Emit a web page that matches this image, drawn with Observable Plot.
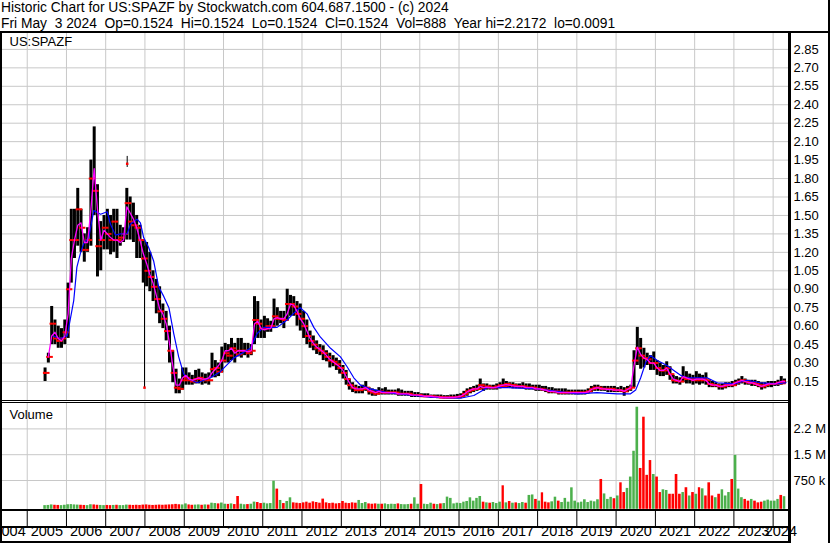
<!DOCTYPE html>
<html><head><meta charset="utf-8">
<script src="https://cdn.jsdelivr.net/npm/d3@7"></script>
<script src="https://cdn.jsdelivr.net/npm/@observablehq/plot@0.6"></script>
<style>
html,body{margin:0;padding:0;background:#fff;}
#chart{position:relative;width:830px;height:543px;overflow:hidden;background:#fff;font-family:Arial,"Liberation Sans",sans-serif;color:#000;}
.hdr{position:absolute;left:1px;top:0px;font-size:13.8px;line-height:16px;white-space:pre;}
.ln{position:absolute;background:#000;}
.panel{position:absolute;left:0;}
.panel svg{display:block;overflow:visible;}
</style></head><body>
<div id="chart">
  <div class="hdr" id="hdr"></div>
  <div class="panel" id="pricePanel" style="top:32px"></div>
  <div class="panel" id="volPanel" style="top:403px"></div>
  <div class="panel" id="axisPanel" style="top:511px"></div>
  <div class="ln" style="left:0;top:31px;width:830px;height:2px"></div>
  <div class="ln" style="left:0;top:31px;width:2px;height:512px"></div>
  <div class="ln" style="left:828px;top:0;width:2px;height:543px"></div>
  <div class="ln" style="left:788px;top:31px;width:3px;height:512px"></div>
  <div class="ln" style="left:0;top:400px;width:790px;height:1px"></div>
  <div class="ln" style="left:0;top:402px;width:790px;height:1px"></div>
  <div class="ln" style="left:0;top:509px;width:790px;height:2px"></div>
  <div class="ln" style="left:0;top:526px;width:790px;height:2px"></div>
  <div class="ln" style="left:0;top:541px;width:791px;height:2px"></div>
</div>
<script>
// ---------- header text ----------
const headerLines = [
  "Historic Chart for US:SPAZF by Stockwatch.com 604.687.1500 - (c) 2024",
  "Fri May  3 2024  Op=0.1524  Hi=0.1524  Lo=0.1524  Cl=0.1524  Vol=888  Year hi=2.2172  lo=0.0091"
];
const symbolLabel = "US:SPAZF";
const volumeLabel = "Volume";

// ---------- monthly data, Jun 2005 .. Apr 2024 ----------
const firstMonth = "2005-06";
const lastMonth = "2024-04";

const high = [
  0.26,0.38,0.76,0.65,0.60,0.58,0.65,
  0.95,1.55,1.55,1.72,1.55,1.35,1.40,1.95,2.22,1.75,1.45,1.50,
  1.55,1.50,1.55,1.55,1.42,1.40,1.72,1.65,1.60,1.50,1.42,1.30,
  1.28,1.20,1.05,0.98,0.92,0.78,0.72,0.60,0.40,0.25,0.17,0.26,
  0.26,0.22,0.20,0.24,0.25,0.22,0.21,0.22,0.38,0.32,0.30,0.43,
  0.46,0.45,0.50,0.46,0.50,0.50,0.46,0.46,0.45,0.84,0.80,0.65,
  0.68,0.66,0.64,0.82,0.75,0.72,0.72,0.90,0.85,0.84,0.80,0.78,
  0.72,0.65,0.56,0.52,0.48,0.45,0.44,0.40,0.38,0.36,0.34,0.32,
  0.28,0.24,0.17,0.14,0.12,0.11,0.12,0.15,0.10,0.09,0.08,0.10,
  0.09,0.10,0.08,0.08,0.08,0.09,0.08,0.07,0.07,0.07,0.06,0.06,
  0.05,0.05,0.05,0.04,0.04,0.04,0.04,0.035,0.035,0.04,0.04,0.045,
  0.05,0.07,0.09,0.10,0.11,0.12,0.17,0.13,0.13,0.12,0.12,0.13,
  0.14,0.17,0.15,0.14,0.14,0.13,0.13,0.14,0.13,0.13,0.12,0.12,
  0.12,0.11,0.11,0.10,0.10,0.09,0.09,0.09,0.09,0.08,0.08,0.08,
  0.08,0.08,0.08,0.09,0.11,0.12,0.12,0.11,0.11,0.11,0.11,0.11,
  0.10,0.11,0.10,0.11,0.12,0.40,0.59,0.50,0.42,0.38,0.36,0.39,
  0.32,0.30,0.28,0.31,0.27,0.20,0.19,0.18,0.27,0.23,0.21,0.20,
  0.23,0.21,0.20,0.22,0.16,0.15,0.14,0.13,0.13,0.14,0.14,0.15,
  0.16,0.17,0.19,0.17,0.16,0.16,0.16,0.15,0.14,0.14,0.15,0.15,
  0.15,0.16,0.19,0.17
];
const low = [
  0.15,0.30,0.45,0.45,0.42,0.42,0.45,
  0.50,0.95,1.15,1.25,1.20,1.12,1.20,1.25,1.50,1.00,1.05,1.22,
  1.22,1.18,1.20,1.15,1.25,1.28,1.30,1.30,1.28,1.15,1.15,0.95,
  0.92,0.88,0.80,0.70,0.62,0.58,0.48,0.30,0.14,0.05,0.05,0.08,
  0.12,0.12,0.12,0.13,0.13,0.12,0.13,0.12,0.18,0.18,0.19,0.22,
  0.30,0.30,0.32,0.30,0.35,0.34,0.36,0.34,0.36,0.45,0.50,0.50,
  0.50,0.55,0.55,0.58,0.60,0.62,0.58,0.64,0.68,0.68,0.60,0.56,
  0.50,0.45,0.42,0.40,0.37,0.36,0.32,0.31,0.26,0.27,0.24,0.21,
  0.17,0.12,0.08,0.06,0.05,0.05,0.05,0.07,0.04,0.03,0.03,0.04,
  0.04,0.04,0.04,0.04,0.04,0.03,0.03,0.03,0.03,0.02,0.02,0.02,
  0.02,0.02,0.02,0.015,0.015,0.01,0.01,0.01,0.01,0.01,0.01,0.01,
  0.01,0.02,0.03,0.05,0.06,0.07,0.08,0.07,0.08,0.08,0.08,0.08,
  0.09,0.10,0.10,0.10,0.09,0.09,0.09,0.09,0.08,0.08,0.08,0.07,
  0.07,0.07,0.06,0.05,0.05,0.05,0.04,0.04,0.04,0.04,0.04,0.04,
  0.04,0.04,0.04,0.05,0.06,0.07,0.07,0.07,0.07,0.06,0.06,0.06,
  0.06,0.06,0.03,0.06,0.07,0.10,0.28,0.25,0.26,0.28,0.24,0.24,
  0.20,0.19,0.19,0.20,0.16,0.13,0.13,0.12,0.14,0.13,0.13,0.12,
  0.13,0.12,0.13,0.12,0.10,0.10,0.10,0.08,0.08,0.09,0.10,0.10,
  0.11,0.12,0.13,0.12,0.12,0.11,0.11,0.10,0.08,0.09,0.10,0.10,
  0.11,0.11,0.12,0.13
];
const close = [
  0.22,0.35,0.62,0.50,0.48,0.50,0.55,
  0.90,1.30,1.30,1.55,1.40,1.22,1.30,1.80,1.70,1.25,1.30,1.40,
  1.35,1.30,1.45,1.30,1.32,1.35,1.60,1.45,1.42,1.40,1.30,1.15,
  1.05,1.00,0.92,0.82,0.72,0.66,0.56,0.40,0.22,0.10,0.09,0.16,
  0.18,0.16,0.15,0.17,0.18,0.16,0.17,0.16,0.25,0.26,0.23,0.32,
  0.38,0.36,0.42,0.40,0.37,0.40,0.40,0.38,0.40,0.65,0.62,0.58,
  0.58,0.60,0.60,0.68,0.66,0.66,0.65,0.78,0.78,0.76,0.70,0.66,
  0.60,0.52,0.48,0.45,0.42,0.40,0.38,0.35,0.32,0.31,0.29,0.26,
  0.22,0.17,0.12,0.10,0.08,0.08,0.09,0.10,0.07,0.06,0.05,0.07,
  0.06,0.06,0.06,0.06,0.06,0.05,0.05,0.05,0.05,0.04,0.04,0.04,
  0.03,0.03,0.03,0.03,0.025,0.025,0.02,0.02,0.02,0.02,0.02,0.025,
  0.03,0.05,0.07,0.08,0.09,0.09,0.12,0.10,0.11,0.10,0.10,0.11,
  0.12,0.11,0.13,0.12,0.12,0.11,0.11,0.11,0.10,0.10,0.10,0.09,
  0.09,0.085,0.08,0.07,0.07,0.07,0.06,0.06,0.06,0.06,0.06,0.06,
  0.06,0.06,0.06,0.07,0.09,0.10,0.10,0.09,0.09,0.09,0.09,0.08,
  0.08,0.075,0.07,0.09,0.10,0.32,0.42,0.36,0.34,0.33,0.30,0.30,
  0.26,0.24,0.24,0.26,0.21,0.16,0.155,0.15,0.18,0.17,0.17,0.16,
  0.17,0.16,0.17,0.16,0.13,0.12,0.12,0.11,0.11,0.12,0.125,0.12,
  0.14,0.15,0.16,0.15,0.14,0.14,0.13,0.12,0.11,0.12,0.13,0.13,
  0.13,0.14,0.135,0.1524
];
// short moving average (magenta)
const maShort = [
  null,0.35,0.52,0.55,0.50,0.48,0.52,
  0.70,1.15,1.30,1.42,1.44,1.28,1.28,1.55,1.88,1.55,1.30,1.38,
  1.35,1.32,1.30,1.30,1.28,1.30,1.57,1.52,1.47,1.40,1.30,1.19,
  1.11,1.02,0.95,0.85,0.74,0.70,0.62,0.46,0.28,0.12,0.12,0.18,
  0.20,0.17,0.16,0.17,0.18,0.17,0.17,0.18,0.22,0.25,0.28,0.32,
  0.40,0.40,0.42,0.38,0.40,0.40,0.40,0.39,0.40,0.62,0.64,0.58,
  0.57,0.58,0.58,0.66,0.67,0.66,0.66,0.70,0.78,0.77,0.72,0.66,
  0.62,0.56,0.50,0.46,0.43,0.41,0.39,0.36,0.33,0.31,0.29,0.27,
  0.24,0.19,0.14,0.10,0.09,0.09,0.09,0.10,0.08,0.07,0.06,0.07,
  0.06,0.06,0.06,0.06,0.06,0.05,0.05,0.05,0.05,0.04,0.04,0.04,
  0.035,0.03,0.03,0.03,0.025,0.025,0.02,0.02,0.02,0.02,0.02,0.025,
  0.03,0.045,0.065,0.08,0.09,0.09,0.11,0.10,0.105,0.10,0.10,0.105,
  0.115,0.12,0.125,0.12,0.115,0.11,0.11,0.11,0.10,0.10,0.10,0.09,
  0.09,0.085,0.08,0.07,0.07,0.065,0.06,0.06,0.06,0.06,0.06,0.06,
  0.06,0.06,0.06,0.065,0.085,0.095,0.10,0.09,0.09,0.085,0.085,0.08,
  0.08,0.08,0.07,0.085,0.10,0.28,0.43,0.37,0.34,0.33,0.30,0.30,
  0.26,0.24,0.24,0.26,0.21,0.17,0.16,0.15,0.19,0.18,0.17,0.16,
  0.17,0.17,0.17,0.16,0.13,0.12,0.12,0.11,0.11,0.12,0.12,0.125,
  0.14,0.15,0.16,0.15,0.14,0.14,0.13,0.12,0.11,0.12,0.13,0.13,
  0.13,0.14,0.15,0.15
];
// monthly volume, thousands of shares
const volumeK = [
  20,25,40,30,25,20,30,
  45,50,40,35,30,25,20,45,40,30,25,20,
  25,20,25,30,20,20,35,30,25,30,25,35,
  40,30,25,30,35,30,35,40,45,55,45,40,
  70,40,30,35,40,30,40,35,90,80,70,95,
  60,55,70,50,285,60,45,50,60,122,110,80,
  90,70,80,730,500,170,80,140,247,100,90,80,
  100,120,90,130,110,90,209,100,80,90,70,80,
  140,90,80,100,90,170,80,110,70,60,70,60,
  60,70,50,60,55,70,50,45,50,60,247,60,
  634,60,50,90,60,50,70,80,267,230,70,90,
  80,120,140,247,150,230,285,120,100,90,110,80,
  120,596,100,140,90,100,80,110,90,316,330,200,
  150,392,120,100,130,265,150,110,230,120,537,150,
  100,120,190,110,150,130,190,780,360,200,260,220,
  300,683,400,520,850,1600,2880,1100,2590,900,1330,924,
  850,400,480,460,350,350,924,350,400,540,300,400,
  350,540,508,300,683,300,250,350,480,300,400,780,
  1480,500,250,200,150,200,150,100,120,150,180,150,
  150,200,316,280
];
// long moving average (blue), read at turning points
const maLongDates = ["2005-09-01","2005-11-01","2006-01-08","2006-03-10","2006-04-08","2006-05-10","2006-06-10","2006-07-27","2006-09-12","2006-11-14","2007-01-15","2007-02-14","2007-04-01","2007-05-18","2007-07-19","2007-08-20","2007-10-20","2007-11-20","2007-12-20","2008-02-05","2008-03-22","2008-05-08","2008-06-25","2008-08-11","2008-09-25","2008-11-10","2008-12-27","2009-02-13","2009-05-01","2009-09-02","2009-12-02","2010-04-05","2010-09-08","2010-11-10","2011-01-10","2011-05-15","2011-08-15","2011-11-15","2011-12-15","2012-02-17","2012-04-20","2012-06-21","2012-09-23","2012-12-24","2013-02-24","2013-04-27","2013-06-28","2013-09-28","2014-03-02","2014-11-06","2015-04-08","2016-01-12","2016-05-18","2016-09-20","2017-03-25","2017-12-29","2019-01-03","2019-07-08","2020-01-12","2020-05-15","2020-07-01","2020-08-17","2020-10-05","2020-11-19","2021-01-19","2021-04-20","2021-06-21","2021-08-23","2021-10-24","2022-04-27","2022-07-30","2023-01-01","2023-05-05","2023-09-06","2024-02-06","2024-04-30"];
const maLongValues = [0.52,0.50,0.52,0.81,1.08,1.19,1.27,1.32,1.54,1.51,1.53,1.43,1.34,1.35,1.35,1.43,1.47,1.44,1.32,1.24,1.13,0.92,0.84,0.75,0.54,0.35,0.21,0.17,0.14,0.18,0.23,0.34,0.42,0.54,0.59,0.59,0.65,0.73,0.75,0.70,0.59,0.51,0.42,0.35,0.27,0.18,0.12,0.09,0.06,0.036,0.022,0.014,0.036,0.10,0.10,0.09,0.05,0.06,0.05,0.05,0.08,0.18,0.31,0.36,0.32,0.28,0.24,0.20,0.18,0.18,0.14,0.13,0.16,0.14,0.13,0.14];
// isolated one-day spikes
const spikeDates = ["2007-07-20","2007-12-28"];
const spikeLow   = [1.89, 0.10];
const spikeHigh  = [1.98, 1.25];
const spikeClose = [1.92, 0.10];

// axis values
const priceTicks = [0.15,0.30,0.45,0.60,0.75,0.90,1.05,1.20,1.35,1.50,1.65,1.80,1.95,2.10,2.25,2.40,2.55,2.70,2.85];
const volTicks = [750000,1500000,2250000];
const volTickLabels = ["750 k","1.5 M","2.2 M"];
const yearTicks = [2005,2006,2007,2008,2009,2010,2011,2012,2013,2014,2015,2016,2017,2018,2019,2020,2021,2022,2023,2024];
const yearLabels = [2004,2005,2006,2007,2008,2009,2010,2011,2012,2013,2014,2015,2016,2017,2018,2019,2020,2021,2022,2023,2024];

// ---------- build ----------
const FONT = 'Arial, "Liberation Sans", sans-serif';
const GRID = "#c8c8c8";
const GREEN = "#4cb04c";
const RED = "#ff0000";

document.getElementById("hdr").textContent = headerLines.join("\n");

const parseM = d3.utcParse("%Y-%m");
const parseD = d3.utcParse("%Y-%m-%d");
const months = d3.utcMonth.range(parseM(firstMonth), d3.utcMonth.offset(parseM(lastMonth), 1));
const rows = months.map((d, i) => {
  const end = d3.utcMonth.offset(d, 1);
  return {start: d, end, mid: new Date((+d + +end) / 2), hi: high[i], lo: low[i], cl: close[i],
          op: i === 0 ? close[i] : close[i - 1],
          ma: maShort[i], vol: volumeK[i] * 1000, up: i === 0 || close[i] >= close[i - 1]};
});
const blue = maLongDates.map((d, i) => ({date: parseD(d), v: maLongValues[i]}));
const spikes = spikeDates.map((d, i) => ({date: parseD(d), lo: spikeLow[i], hi: spikeHigh[i], cl: spikeClose[i]}));
const yearStarts = yearTicks.map(y => new Date(Date.UTC(y, 0, 1)));

const xDomain = [new Date(Date.UTC(2004, 4, 16)), new Date(Date.UTC(2024, 4, 23))];
const common = {width: 830, marginLeft: 2, marginRight: 42, marginTop: 0,
  style: {fontFamily: FONT, fontSize: "13px", color: "#000", background: "transparent", overflow: "visible"},
  x: {type: "utc", domain: xDomain, axis: null}};

const price = Plot.plot({
  ...common, height: 368, marginBottom: 0,
  y: {domain: [-0.0045, 2.9874], axis: null},
  marks: [
    Plot.ruleX(yearStarts, {stroke: GRID}),
    Plot.ruleY(priceTicks, {stroke: GRID}),
    Plot.ruleX(rows, {x: "mid", y1: "lo", y2: "hi", stroke: "#000", strokeWidth: 3}),
    Plot.ruleX(spikes, {x: "date", y1: "lo", y2: "hi", stroke: "#000", strokeWidth: 1}),
    Plot.ruleY(rows, {x1: "start", x2: "end", y: "op", stroke: RED, strokeWidth: 2}),
    Plot.ruleY(rows, {x1: "start", x2: "end", y: "cl", stroke: RED, strokeWidth: 2}),
    Plot.dot(spikes, {x: "date", y: "cl", symbol: "square", r: 1.4, fill: RED, stroke: null}),
    Plot.line(blue, {x: "date", y: "v", stroke: "#0000ff", strokeWidth: 1.2}),
    Plot.line(rows, {x: "mid", y: "ma", stroke: "#ff00ff", strokeWidth: 1.3}),
    Plot.axisY(priceTicks, {anchor: "right", label: null, tickSize: 0, tickPadding: 5, tickFormat: d => d.toFixed(2), fontSize: 13}),
    Plot.text([symbolLabel], {frameAnchor: "top-left", dx: 7, dy: 4.5, lineAnchor: "top", fontSize: 13, fill: "#000"})
  ]
});
document.getElementById("pricePanel").appendChild(price);

const volLabelOf = new Map(volTicks.map((v, i) => [v, volTickLabels[i]]));
const vol = Plot.plot({
  ...common, height: 106, marginBottom: 0,
  y: {domain: [-93023, 2988372], axis: null},
  marks: [
    Plot.ruleX(yearStarts, {stroke: GRID}),
    Plot.ruleY(volTicks, {stroke: GRID}),
    Plot.rectY(rows.filter(d => d.up), {x1: "start", x2: "end", y: "vol", fill: GREEN, insetLeft: 0.35, insetRight: 0.35, insetBottom: -3}),
    Plot.rectY(rows.filter(d => !d.up), {x1: "start", x2: "end", y: "vol", fill: RED, insetLeft: 0.35, insetRight: 0.35, insetBottom: -3}),
    Plot.axisY(volTicks, {anchor: "right", label: null, tickSize: 0, tickPadding: 5, tickFormat: d => volLabelOf.get(d), fontSize: 13}),
    Plot.text([volumeLabel], {frameAnchor: "top-left", dx: 7, dy: 6, lineAnchor: "top", fontSize: 13, fill: "#000"})
  ]
});
document.getElementById("volPanel").appendChild(vol);

const labelRows = yearLabels.map(y => {
  const s = new Date(Date.UTC(y, 0, 1)), e = new Date(Date.UTC(y + 1, 0, 1));
  const a = s < xDomain[0] ? xDomain[0] : s, b = e > xDomain[1] ? xDomain[1] : e;
  return {year: y, pos: new Date((+a + +b) / 2), start: s, next: e, clipped: s < xDomain[0]};
});
const axis = Plot.plot({
  ...common, height: 30, marginBottom: 15,
  marks: [
    Plot.ruleX(yearStarts, {stroke: "#000"}),
    Plot.text(labelRows.filter(d => !d.clipped), {x: "pos", text: d => String(d.year), frameAnchor: "bottom", dy: 9, fontSize: 14.5, fill: "#000"}),
    Plot.text(labelRows.filter(d => d.clipped), {x: "next", text: d => String(d.year), frameAnchor: "bottom", dy: 9, dx: -1.5, textAnchor: "end", fontSize: 14.5, fill: "#000"})
  ]
});
document.getElementById("axisPanel").appendChild(axis);
</script>
</body></html>
